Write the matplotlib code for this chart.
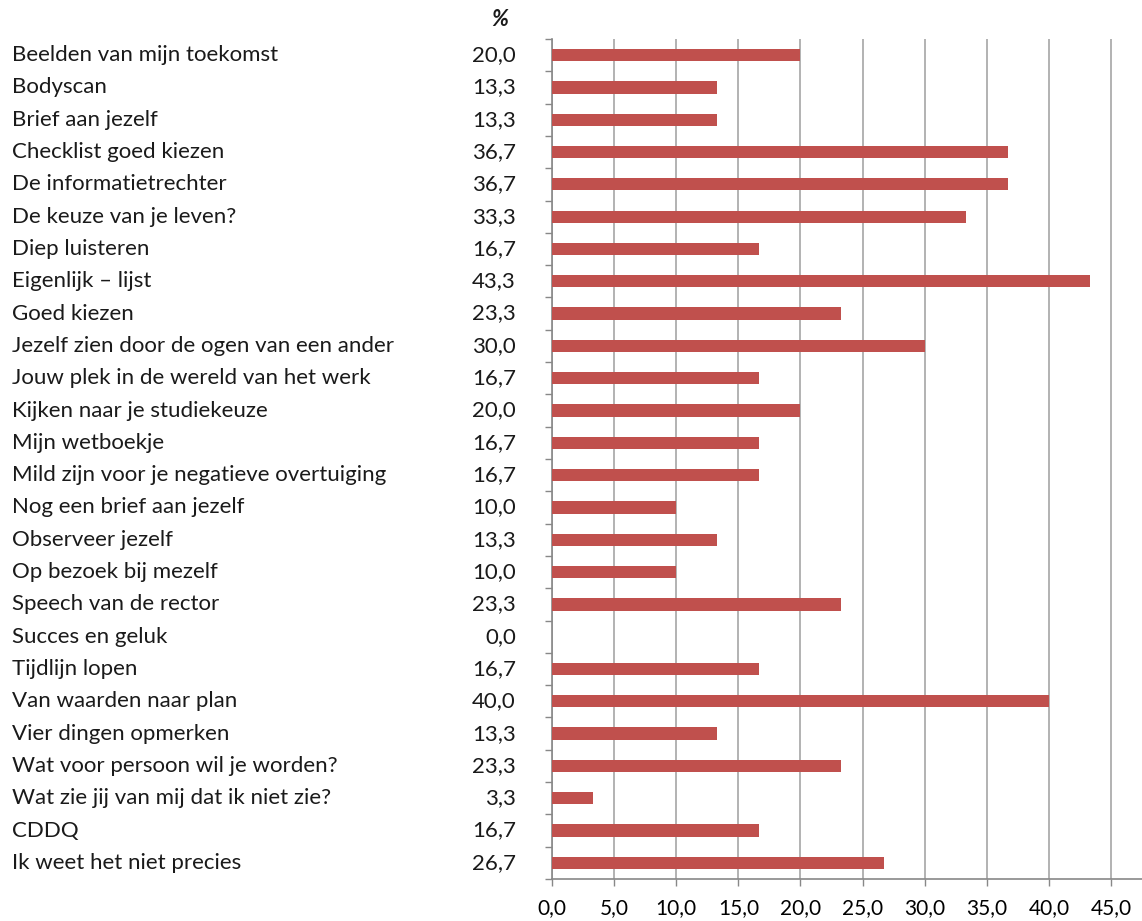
import matplotlib
matplotlib.use('Agg')
import matplotlib.pyplot as plt
from matplotlib.transforms import blended_transform_factory

plt.rcParams['font.family'] = ['Lato', 'DejaVu Sans']

# data
categories = [
    'Beelden van mijn toekomst', 'Bodyscan', 'Brief aan jezelf',
    'Checklist goed kiezen', 'De informatietrechter', 'De keuze van je leven?',
    'Diep luisteren', 'Eigenlijk – lijst', 'Goed kiezen',
    'Jezelf zien door de ogen van een ander', 'Jouw plek in de wereld van het werk',
    'Kijken naar je studiekeuze', 'Mijn wetboekje',
    'Mild zijn voor je negatieve overtuiging', 'Nog een brief aan jezelf',
    'Observeer jezelf', 'Op bezoek bij mezelf', 'Speech van de rector',
    'Succes en geluk', 'Tijdlijn lopen', 'Van waarden naar plan',
    'Vier dingen opmerken', 'Wat voor persoon wil je worden?',
    'Wat zie jij van mij dat ik niet zie?', 'CDDQ', 'Ik weet het niet precies',
]
percentages = [20.0, 13.3, 13.3, 36.7, 36.7, 33.3, 16.7, 43.3, 23.3, 30.0,
               16.7, 20.0, 16.7, 16.7, 10.0, 13.3, 10.0, 23.3, 0.0, 16.7,
               40.0, 13.3, 23.3, 3.3, 16.7, 26.7]
x_ticks = [0, 5, 10, 15, 20, 25, 30, 35, 40, 45]

def nl(v):
    return f"{v:.1f}".replace('.', ',')

fig = plt.figure(figsize=(11.42, 9.21), dpi=100)
ax = fig.add_axes([0.4834, 0.0456, 0.5166, 0.9121])

n = len(categories)
ypos = list(range(n))
ax.barh(ypos, percentages, height=0.38, color='#C0504D', zorder=3)

ax.set_ylim(n - 0.5, -0.5)
ax.set_xlim(0, 47.5)

ax.set_xticks(x_ticks)
ax.set_xticklabels([nl(t) for t in x_ticks], fontsize=15)
ax.grid(axis='x', color='#A6A6A6', linewidth=1.2, zorder=0)

ax.set_yticks([])
ax.set_yticks([i - 0.5 for i in range(n + 1)], minor=True)
ax.tick_params(axis='y', which='minor', length=5, color='#888888', width=1)
ax.tick_params(axis='x', length=5, color='#888888', width=1, pad=9)

for s in ['top', 'right']:
    ax.spines[s].set_visible(False)
ax.spines['left'].set_color('#888888')
ax.spines['bottom'].set_color('#888888')
ax.spines['left'].set_linewidth(1.2)
ax.spines['bottom'].set_linewidth(1.2)

tr = blended_transform_factory(fig.transFigure, ax.transData)
for i, (c, v) in enumerate(zip(categories, percentages)):
    ax.text(12 / 1142, i, c, transform=tr, ha='left', va='center',
            fontsize=16, color='#1a1a1a', clip_on=False)
    ax.text(516 / 1142, i, nl(v), transform=tr, ha='right', va='center',
            fontsize=16, color='#1a1a1a', clip_on=False)

fig.text(500 / 1142, 1 - 20 / 921, '%', ha='center', va='center',
         fontsize=16, fontweight='bold', fontstyle='italic', color='#1a1a1a')

fig.savefig('out.png', dpi=100)
